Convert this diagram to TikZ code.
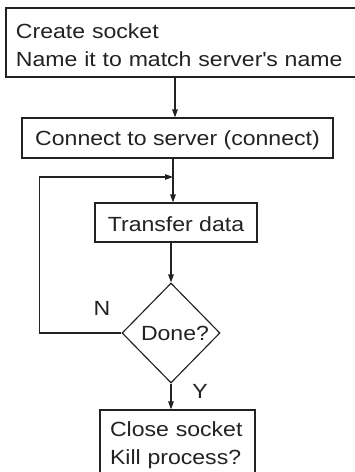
\documentclass[tikz,border=0pt]{standalone}
\usepackage{fontspec}
\setmainfont[FakeStretch=1.125]{Liberation Sans}
\usetikzlibrary{shapes.geometric,arrows.meta}
\definecolor{ink}{HTML}{222222}
% line struts: fix the baseline position inside each box
\newcommand\rowstrut{\rule[-4.2pt]{0pt}{28pt}}
\newcommand\onestrut{\rule[-2.2pt]{0pt}{22.4pt}}
\begin{document}
\begin{tikzpicture}[x=1pt,y=-1pt,
  every node/.style={text=ink,font=\fontsize{20.5}{28}\selectfont},
  stepbox/.style={draw=ink,line width=1.15pt,rectangle,inner sep=0pt},
  decision/.style={draw=ink,line width=1.15pt,diamond,inner sep=0pt,
    minimum width=98pt,minimum height=100pt},
  flow/.style={draw=ink,line width=1.15pt,-{Triangle[length=8pt,width=5.5pt]}},
  plain/.style={draw=ink,line width=1.15pt},
  tag/.style={inner sep=0pt}]
\useasboundingbox (0,0) rectangle (355,472);
\clip (0,0) rectangle (355,472);

% process boxes
\node[stepbox,minimum width=356pt,minimum height=69pt,text width=336pt,
      align=left] (create) at (184,42.5)
  {\rowstrut Create socket\\\rowstrut Name it to match server\textquotesingle s name};
\node[stepbox,minimum width=311pt,minimum height=40pt] (conn) at (177.5,138)
  {\onestrut Connect to server (connect)};
\node[stepbox,minimum width=162pt,minimum height=39pt] (xfer) at (176,222.5)
  {\onestrut Transfer data};
\node[decision] (done) at (171,333) {\hspace*{8pt}Done?};
\node[stepbox,minimum width=155pt,minimum height=77.2pt,text width=135pt,
      align=left] (close) at (177.5,448.6)
  {\rowstrut Close socket\\\rowstrut\rule[-20pt]{0pt}{0pt}Kill process?};

% branch labels
\node[tag] (nlab) at (102,308) {N};
\node[tag] (ylab) at (200,391) {Y};

% loop return point
\coordinate (join) at (173,177);

% connectors
\draw[flow] (create.south -| 175,0) -- (conn.north -| 175,0);
\draw[plain] (conn.south -| join) -- (join);
\draw[flow] (join) -- (xfer.north -| join);
\draw[flow] (xfer.south -| done) -- (done.north);
\draw[flow] (done.south) -- (close.north -| done);
\draw[flow] (done.west) -- ++(-82,0) |- (join);
\end{tikzpicture}
\end{document}
